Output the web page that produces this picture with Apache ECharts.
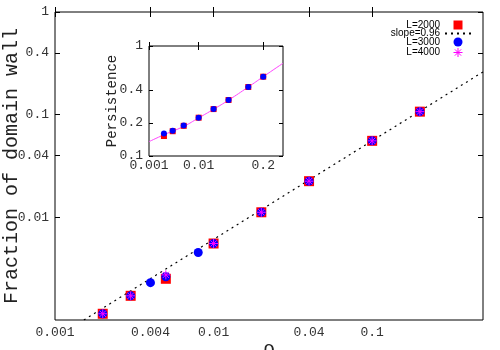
<!DOCTYPE html>
<html>
<head>
<meta charset="utf-8">
<script src="https://cdn.jsdelivr.net/npm/echarts@6/dist/echarts.min.js"></script>
<style>
  html, body { margin: 0; padding: 0; background: #fff; }
  #chart { width: 500px; height: 350px; }
</style>
</head>
<body>
<div id="chart"></div>
<script>
    // main plot data (rho, fraction of domain wall)
    var x2000 = [0.002, 0.003, 0.005, 0.01, 0.02, 0.04, 0.1, 0.2];
    var y2000 = [0.00115, 0.00172, 0.00252, 0.00556, 0.0112, 0.0225, 0.0556, 0.107];
    var x3000 = [0.002, 0.003, 0.004, 0.005, 0.008, 0.01, 0.02, 0.04, 0.1, 0.2];
    var y3000 = [0.00115, 0.00172, 0.00231, 0.00264, 0.00454, 0.00556, 0.0112, 0.0225, 0.0556, 0.107];
    var x4000 = [0.002, 0.003, 0.005, 0.01, 0.02, 0.04, 0.1, 0.2];
    var y4000 = [0.00115, 0.00172, 0.00275, 0.00556, 0.0112, 0.0225, 0.0556, 0.107];
    // slope=0.96 guide line end points
    var fitX = [0.00152, 0.5];
    var fitY = [0.001, 0.261];

    // inset data (rho, persistence)
    var insX = [0.002, 0.003, 0.005, 0.01, 0.02, 0.04, 0.1, 0.2];
    var insY2000 = [0.152, 0.168, 0.188, 0.223, 0.267, 0.323, 0.424, 0.526];
    var insY3000 = [0.160, 0.170, 0.189, 0.223, 0.267, 0.323, 0.424, 0.526];
    var insLineX = [0.001, 0.002, 0.005, 0.01, 0.02, 0.04, 0.1, 0.2, 0.5];
    var insLineY = [0.135, 0.156, 0.186, 0.222, 0.266, 0.322, 0.424, 0.526, 0.697];

    // tick values
    var mainXTicks = [0.001, 0.004, 0.01, 0.04, 0.1];
    var mainYTicks = [1, 0.4, 0.1, 0.04, 0.01];
    var insXTicks = [0.001, 0.01, 0.2];
    var insYTicks = [1, 0.4, 0.2, 0.1];

    var L = Math.log10;
    function pts(xs, ys) {
        return xs.map(function (x, i) { return [L(x), L(ys[i])]; });
    }
    function logs(arr) { return arr.map(L); }
    function fmt(v) { return String(Number(Math.pow(10, v).toPrecision(3))); }

    var mono = 'Liberation Mono';
    var square = 'path://M0,0 L10,0 L10,10 L0,10 Z';
    var star = 'path://M5,0 L5,10 M0,5 L10,5 M1.5,1.5 L8.5,8.5 M8.5,1.5 L1.5,8.5';

    function axis(pos, grid, min, max, ticks, label, extra) {
        var a = {
            type: 'value',
            gridIndex: grid,
            position: pos,
            min: min,
            max: max,
            nameMoveOverlap: false,
            axisLine: { show: false },
            splitLine: { show: false },
            axisTick: {
                show: true, inside: true, length: grid === 0 ? 5 : 4,
                customValues: logs(ticks),
                lineStyle: { color: '#000', width: 1 }
            },
            axisLabel: {
                show: label,
                customValues: logs(ticks),
                formatter: fmt,
                fontFamily: mono,
                fontSize: 13,
                color: '#333',
                margin: 6
            }
        };
        for (var k in extra) a[k] = extra[k];
        return a;
    }

    var chart = echarts.init(document.getElementById('chart'));
    var option = {
        animation: false,
        legend: {
            orient: 'vertical',
            align: 'right',
            right: 23,
            top: 15,
            itemWidth: 26,
            itemHeight: 9,
            itemGap: -1.5,
            data: [
                { name: 'L=2000' },
                { name: 'slope=0.96', itemStyle: { opacity: 0 } },
                { name: 'L=3000' },
                { name: 'L=4000', itemStyle: { color: 'none', borderColor: '#ff00ff', borderWidth: 1 } }
            ],
            textStyle: { fontFamily: 'Liberation Sans', fontSize: 10, color: '#000', lineHeight: 9 }
        },
        grid: [
            { left: 55, top: 12, right: 17, bottom: 30, outerBoundsMode: 'none', show: true, borderColor: '#000', borderWidth: 1, backgroundColor: 'transparent' },
            { left: 149, top: 46, width: 134, height: 110, outerBoundsMode: 'none', show: true, borderColor: '#000', borderWidth: 1, backgroundColor: '#fff' }
        ],
        xAxis: [
            axis('bottom', 0, -3, L(0.5), mainXTicks, true, {
                name: 'ρ', nameLocation: 'middle', nameGap: 20,
                nameTextStyle: { fontFamily: mono, fontSize: 20, color: '#222' }
            }),
            axis('top', 0, -3, L(0.5), mainXTicks, false, {}),
            axis('bottom', 1, -3, L(0.5), insXTicks, true, { axisLabel: {
                show: true, customValues: logs(insXTicks), formatter: fmt,
                fontFamily: mono, fontSize: 13, color: '#333', margin: 3 } }),
            axis('top', 1, -3, L(0.5), insXTicks, false, {})
        ],
        yAxis: [
            axis('left', 0, -3, 0, mainYTicks, true, {
                name: 'Fraction of domain wall', nameLocation: 'middle', nameGap: 33,
                nameTextStyle: { fontFamily: mono, fontSize: 20, color: '#222' }
            }),
            axis('right', 0, -3, 0, mainYTicks, false, {}),
            axis('left', 1, -1, 0, insYTicks, true, {
                name: 'Persistence', nameLocation: 'middle', nameGap: 30,
                nameTextStyle: { fontFamily: mono, fontSize: 14, color: '#222' }
            }),
            axis('right', 1, -1, 0, insYTicks, false, {})
        ],
        series: [
            {
                name: 'L=2000', type: 'scatter', xAxisIndex: 0, yAxisIndex: 0,
                symbol: square, symbolSize: 10, symbolKeepAspect: true,
                itemStyle: { color: '#ff0000', opacity: 1 },
                data: pts(x2000, y2000), z: 3
            },
            {
                name: 'slope=0.96', type: 'line', xAxisIndex: 0, yAxisIndex: 0,
                symbol: 'none', showSymbol: false,
                lineStyle: { color: '#000', width: 1.2, type: [2, 4] },
                itemStyle: { color: '#000' },
                data: pts(fitX, fitY), z: 2
            },
            {
                name: 'L=3000', type: 'scatter', xAxisIndex: 0, yAxisIndex: 0,
                symbol: 'circle', symbolSize: 9, symbolKeepAspect: true,
                itemStyle: { color: '#0000ff', opacity: 1 },
                data: pts(x3000, y3000), z: 4
            },
            {
                name: 'L=4000', type: 'scatter', xAxisIndex: 0, yAxisIndex: 0,
                symbol: star, symbolSize: 9, symbolKeepAspect: true,
                itemStyle: { color: 'none', borderColor: '#ff00ff', borderWidth: 1, opacity: 1 },
                data: pts(x4000, y4000), z: 5
            },
            {
                name: 'inset fit', type: 'line', xAxisIndex: 2, yAxisIndex: 2,
                symbol: 'none', smooth: true,
                lineStyle: { color: '#ff44ff', width: 1 },
                data: pts(insLineX, insLineY), z: 6
            },
            {
                name: 'inset 2000', type: 'scatter', xAxisIndex: 2, yAxisIndex: 2,
                symbol: 'rect', symbolSize: 6,
                itemStyle: { color: '#ff0000', opacity: 1 },
                data: pts(insX, insY2000), z: 7
            },
            {
                name: 'inset 3000', type: 'scatter', xAxisIndex: 2, yAxisIndex: 2,
                symbol: 'circle', symbolSize: 6,
                itemStyle: { color: '#0000ff', opacity: 1 },
                data: pts(insX, insY3000), z: 8
            }
        ]
    };
    chart.setOption(option);
</script>
</body>
</html>
